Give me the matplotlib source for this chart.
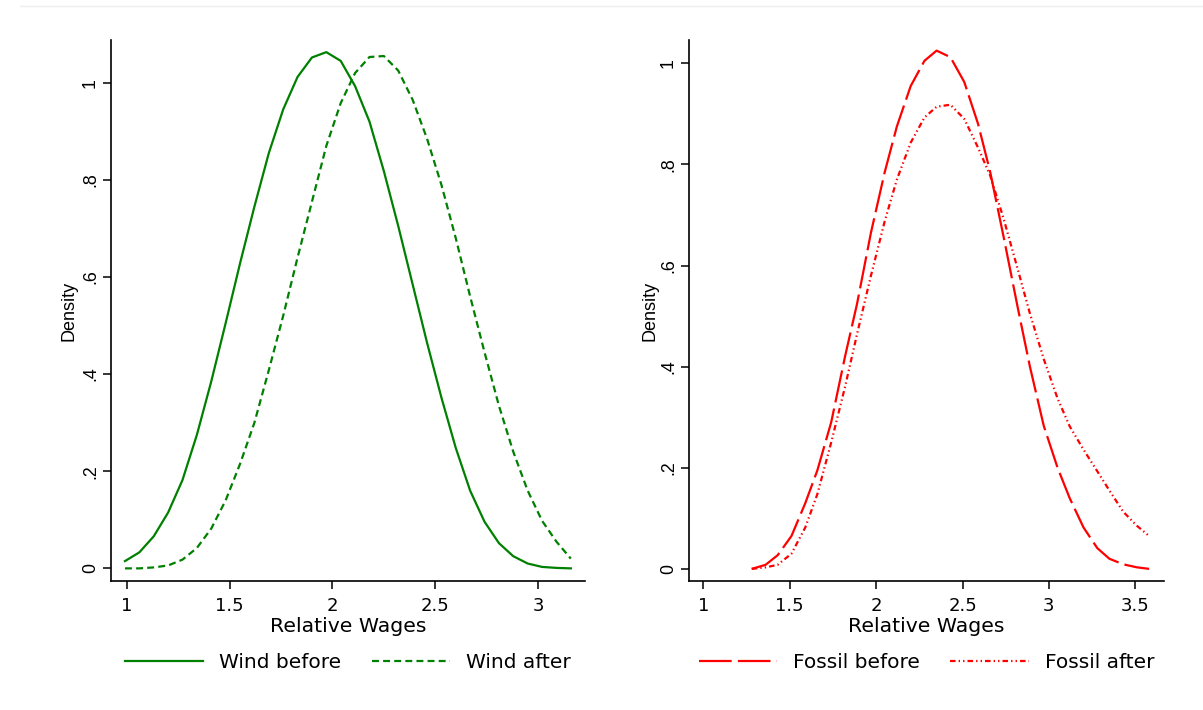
import matplotlib
matplotlib.use("Agg")
import matplotlib.pyplot as plt
from matplotlib.lines import Line2D

plt.rcParams["font.family"] = ["Liberation Sans", "DejaVu Sans"]
plt.rcParams["lines.scale_dashes"] = False

# wind: kernel density of relative wages, before / after
wind_x = [0.99, 1.06, 1.13, 1.20, 1.27, 1.34, 1.41, 1.48, 1.55, 1.62, 1.69,
          1.76, 1.83, 1.90, 1.97, 2.04, 2.11, 2.18, 2.25, 2.32, 2.39, 2.46,
          2.53, 2.60, 2.67, 2.74, 2.81, 2.88, 2.95, 3.02, 3.09, 3.16]
wind_before = [0.015, 0.033, 0.066, 0.115, 0.182, 0.275, 0.385, 0.505, 0.628,
               0.745, 0.855, 0.945, 1.012, 1.052, 1.063, 1.045, 0.993, 0.920,
               0.818, 0.705, 0.585, 0.465, 0.352, 0.248, 0.160, 0.096, 0.052,
               0.025, 0.010, 0.003, 0.001, 0.0]
wind_after = [0.0, 0.0, 0.002, 0.006, 0.018, 0.042, 0.082, 0.140, 0.215, 0.300,
              0.408, 0.520, 0.640, 0.755, 0.870, 0.958, 1.020, 1.053, 1.055,
              1.025, 0.965, 0.885, 0.790, 0.680, 0.560, 0.445, 0.335, 0.240,
              0.160, 0.098, 0.055, 0.020]

# fossil
fossil_x = [1.28, 1.36, 1.43, 1.51, 1.59, 1.66, 1.74, 1.82, 1.89, 1.97, 2.05,
            2.12, 2.20, 2.28, 2.35, 2.43, 2.51, 2.59, 2.66, 2.74, 2.82, 2.89,
            2.97, 3.05, 3.12, 3.20, 3.28, 3.35, 3.43, 3.51, 3.58]
fossil_before = [0.0, 0.008, 0.027, 0.065, 0.130, 0.195, 0.290, 0.420, 0.525,
                 0.665, 0.785, 0.875, 0.955, 1.005, 1.025, 1.012, 0.963, 0.880,
                 0.785, 0.653, 0.516, 0.400, 0.283, 0.200, 0.140, 0.082, 0.041,
                 0.020, 0.009, 0.003, 0.0]
fossil_after = [0.0, 0.003, 0.008, 0.030, 0.082, 0.148, 0.250, 0.360, 0.465,
                0.580, 0.688, 0.770, 0.843, 0.893, 0.914, 0.918, 0.890, 0.833,
                0.778, 0.690, 0.592, 0.505, 0.415, 0.337, 0.282, 0.236, 0.193,
                0.155, 0.113, 0.085, 0.065]

y_ticks = [0, 0.2, 0.4, 0.6, 0.8, 1.0]
y_labels = ["0", ".2", ".4", ".6", ".8", "1"]
wind_xticks = [1, 1.5, 2, 2.5, 3]
fossil_xticks = [1, 1.5, 2, 2.5, 3, 3.5]

GREEN = "#008000"
RED = "#ff0000"
WIDE = ["DejaVu Sans"]  # horizontal text in the source looks stretched
W, H = 1203, 710

fig = plt.figure(figsize=(W / 100, H / 100), dpi=100)
fig.add_artist(Line2D([20 / W, 1], [1 - 6 / H, 1 - 6 / H], color="#eeeeee", lw=1))


def make_axes(left_px, right_px, xticks):
    ax = fig.add_axes([left_px / W, 1 - 581 / H, (right_px - left_px) / W, 541 / H])
    for s in ["top", "right"]:
        ax.spines[s].set_visible(False)
    for s in ["left", "bottom"]:
        ax.spines[s].set_linewidth(1.2)
    ax.tick_params(axis="both", length=6, width=1.1)
    ax.tick_params(axis="x", pad=5.5)
    ax.tick_params(axis="y", pad=2.7, labelrotation=90, labelsize=12.8)
    ax.set_yticks(y_ticks)
    ax.set_yticklabels(y_labels, va="center")
    ax.set_xticks(xticks)
    ax.set_xticklabels([f"{t:g}" for t in xticks], family=WIDE, fontsize=13)
    ax.set_xlabel("Relative Wages", family=WIDE, fontsize=14.7, labelpad=0)
    ax.set_ylabel("Density", fontsize=13)
    return ax


ax1 = make_axes(111, 585, wind_xticks)
ax1.plot(wind_x, wind_before, color=GREEN, lw=1.6, label="Wind before")
ax1.plot(wind_x, wind_after, color=GREEN, lw=1.6, ls=(0, (5, 3)), label="Wind after")
ax1.set_xlim(0.922, 3.229)
ax1.set_ylim(-0.026, 1.088)
ax1.xaxis.set_label_coords(0.5, -0.067)
ax1.yaxis.set_label_coords(-0.0716, 0.5)

ax2 = make_axes(689, 1164, fossil_xticks)
ax2.plot(fossil_x, fossil_before, color=RED, lw=1.6, ls=(0, (23.5, 4.5)), label="Fossil before")
ax2.plot(fossil_x, fossil_after, color=RED, lw=1.6, ls=(0, (4, 2.2, 1, 2.2, 1, 2.2)),
         label="Fossil after")
ax2.set_xlim(0.917, 3.666)
ax2.set_ylim(-0.024, 1.046)
ax2.xaxis.set_label_coords(0.5, -0.067)
ax2.yaxis.set_label_coords(-0.065, 0.5)

for ax in (ax1, ax2):
    ax.legend(loc="center", bbox_to_anchor=(0.5, -0.15), ncol=2, frameon=False,
              prop={"family": WIDE, "size": 14.5}, handlelength=3.9,
              handletextpad=0.8, columnspacing=1.5)

fig.savefig("out.png", dpi=100, facecolor="white")
